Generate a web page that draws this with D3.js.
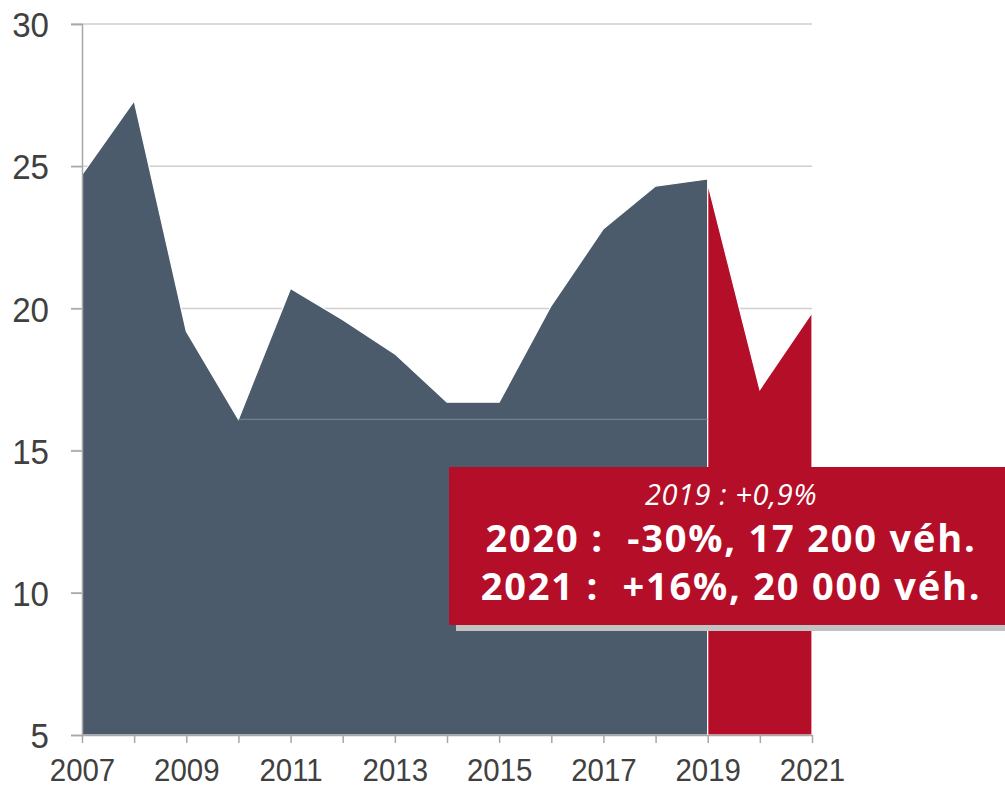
<!DOCTYPE html>
<html>
<head>
<meta charset="utf-8">
<script src="https://cdn.jsdelivr.net/npm/d3@7"></script>
<style>
  body { margin: 0; background: #fff; }
  svg { display: block; }
</style>
</head>
<body>
<div id="chart"></div>
<script>
// historical series (grey) and 2019-2021 series (red), in thousands of vehicles
var years = [2007, 2008, 2009, 2010, 2011, 2012, 2013, 2014, 2015, 2016, 2017, 2018, 2019];
var values = [24.7, 27.3, 19.2, 16.1, 20.7, 19.6, 18.4, 16.7, 16.7, 20.1, 22.8, 24.3, 24.55];
var redYears = [2019, 2020, 2021];
var redValues = [24.4, 17.15, 19.85];
var yTicks = [5, 10, 15, 20, 25, 30];
var xTicks = [2007, 2009, 2011, 2013, 2015, 2017, 2019, 2021];
var boxLines = ["2019 : +0,9%", "2020 :  -30%, 17 200 véh.", "2021 :  +16%, 20 000 véh."];

var width = 1005, height = 787;
var margin = { top: 24, right: 193, bottom: 52, left: 82 };

var svg = d3.select("#chart").append("svg")
    .attr("width", width)
    .attr("height", height);

var x = d3.scaleLinear().domain([2007, 2021]).range([margin.left, width - margin.right]);
var y = d3.scaleLinear().domain([5, 30]).range([height - margin.bottom, margin.top]);

var axisFont = "'Liberation Sans', Arial, sans-serif";
var squeeze = 0.92; // axis labels are condensed in the original

// gridlines
svg.append("g")
    .selectAll("line")
    .data(yTicks.filter(d => d > 5))
    .enter().append("line")
    .attr("x1", x(2007) - 11)
    .attr("x2", x(2021))
    .attr("y1", d => y(d))
    .attr("y2", d => y(d))
    .attr("stroke", "#cfcfcf")
    .attr("stroke-width", 1.5);

// areas
var area = d3.area()
    .x(d => x(d[0]))
    .y0(y(5))
    .y1(d => y(d[1]));

svg.append("path")
    .datum(years.map((d, i) => [d, values[i]]))
    .attr("d", area)
    .attr("fill", "#4b5b6b")
    .attr("stroke", "#fff")
    .attr("stroke-width", 1.2);

svg.append("path")
    .datum(redYears.map((d, i) => [d, redValues[i]]))
    .attr("d", area)
    .attr("fill", "#b50e28")
    .attr("stroke", "#fff")
    .attr("stroke-width", 1.2);

// faint level line left over at the 2010 low
svg.append("line")
    .attr("x1", x(2010))
    .attr("x2", x(2019))
    .attr("y1", y(values[3]))
    .attr("y2", y(values[3]))
    .attr("stroke", "#7a8896")
    .attr("stroke-width", 1);

// y axis
var yAxis = d3.axisLeft(y).tickValues(yTicks).tickSize(11);
svg.append("g")
    .attr("transform", "translate(" + x(2007) + ",0)")
    .call(yAxis)
    .call(g => g.select(".domain").attr("stroke", "#a8a8a8").attr("stroke-width", 1.5))
    .call(g => g.selectAll(".tick line").attr("stroke", "#a8a8a8").attr("stroke-width", 1.5))
    .call(g => g.selectAll(".tick text")
        .attr("x", 0)
        .attr("dy", "0.35em")
        .attr("transform", "translate(-33,0) scale(" + squeeze + ",1)")
        .attr("font-family", axisFont)
        .attr("font-size", 36)
        .attr("fill", "#404040"));

// x axis
var xAxis = d3.axisBottom(x)
    .tickValues(d3.range(2007, 2022))
    .tickSize(8)
    .tickSizeOuter(0)
    .tickFormat(d => xTicks.includes(d) ? d : "");
svg.append("g")
    .attr("transform", "translate(0," + y(5) + ")")
    .call(xAxis)
    .call(g => g.select(".domain").attr("stroke", "#a8a8a8").attr("stroke-width", 1.5))
    .call(g => g.selectAll(".tick line").attr("stroke", "#a8a8a8").attr("stroke-width", 1.5))
    .call(g => g.selectAll(".tick text")
        .attr("y", 0)
        .attr("dy", 0)
        .attr("transform", "translate(0,46) scale(" + squeeze + ",1)")
        .attr("font-family", axisFont)
        .attr("font-size", 32)
        .attr("fill", "#404040"));

// annotation box with shadow
var box = { x: 449, y: 467, w: 560, h: 158 };
svg.append("rect")
    .attr("x", box.x + 7)
    .attr("y", box.y + 6)
    .attr("width", box.w)
    .attr("height", box.h)
    .attr("fill", "#c2c2c2");
svg.append("rect")
    .attr("x", box.x)
    .attr("y", box.y)
    .attr("width", box.w)
    .attr("height", box.h)
    .attr("fill", "#b50e28");

var cx = 731;
svg.append("text")
    .attr("x", cx)
    .attr("y", 505)
    .attr("text-anchor", "middle")
    .attr("font-family", "'Open Sans', sans-serif")
    .attr("font-style", "italic")
    .attr("font-size", 29)
    .attr("letter-spacing", 0.6)
    .attr("fill", "#fff")
    .text(boxLines[0]);

svg.selectAll(".boxline")
    .data(boxLines.slice(1))
    .enter().append("text")
    .attr("class", "boxline")
    .attr("x", cx)
    .attr("y", (d, i) => 552 + i * 48)
    .attr("text-anchor", "middle")
    .attr("font-family", "'Open Sans', sans-serif")
    .attr("font-weight", "bold")
    .attr("font-size", 38)
    .attr("letter-spacing", 1.8)
    .attr("fill", "#fff")
    .style("white-space", "pre")
    .text(d => d);
</script>
</body>
</html>
